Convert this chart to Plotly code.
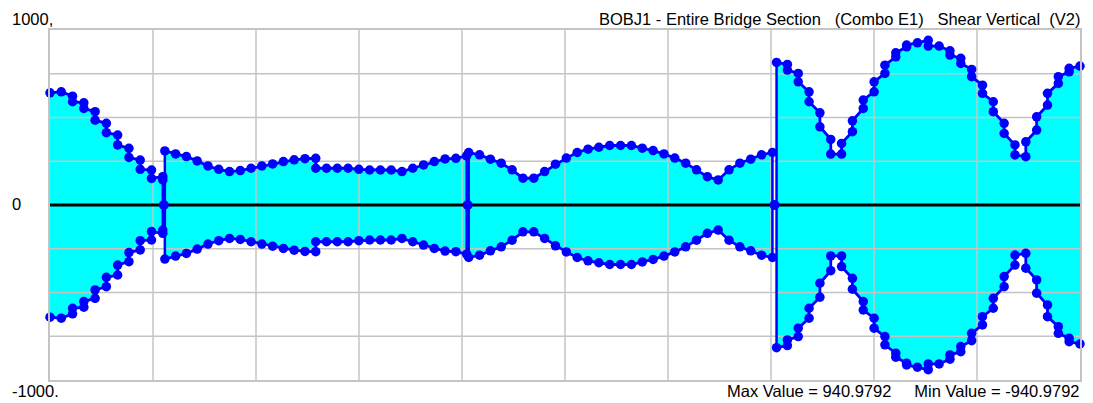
import numpy as np
import plotly.graph_objects as go

# ---------------- data ----------------
title_text = "BOBJ1 - Entire Bridge Section   (Combo E1)   Shear Vertical  (V2)"
extreme_text = "Max Value = 940.9792     Min Value = -940.9792"
y_labels = ["1000,", "0", "-1000."]

x_range = [0, 10]
y_range = [-1000, 1000]
grid_x = list(range(0, 11))
grid_y = list(range(-1000, 1001, 250))

# station layout per span: (start, end, number of output stations)
span_ranges = [(0.0, 1.095, 11), (1.115, 4.045, 29), (4.065, 7.014, 29), (7.054, 10.0, 29)]
supports = [1.105, 4.055, 7.034]

# envelope values per station (two values where the diagram steps at a station)
span1_max = [[641], [647], [622, 590], [584, 552], [533, 485], [467, 413], [400, 343],
             [324, 272], [257, 204], [200, 152], [162, 143]]
span1_min = [[-641], [-647], [-622, -590], [-584, -552], [-533, -485], [-467, -413], [-400, -343],
             [-324, -272], [-257, -204], [-200, -152], [-162, -143]]

span2_max = [[309], [292], [277], [252], [223], [204], [191], [197], [210], [223], [235], [248],
             [258], [265], [267, 210], [210], [210], [210], [204], [200], [200], [200], [191],
             [210], [229], [248], [263], [267], [281]]
span2_min = [[-309], [-292], [-277], [-252], [-223], [-204], [-191], [-197], [-210], [-223], [-235], [-248],
             [-258], [-265], [-267, -210], [-210], [-210], [-210], [-204], [-200], [-200], [-200], [-191],
             [-210], [-229], [-248], [-263], [-267], [-281]]

span3_max = [[300], [287], [262], [239], [201], [153], [153], [191], [233], [268], [300], [319],
             [330], [340], [340], [340], [325], [311], [292], [268], [239], [201], [162], [143],
             [201], [239], [262], [287], [300]]
span3_min = [[-300], [-287], [-262], [-239], [-201], [-153], [-153], [-191], [-233], [-268], [-300], [-319],
             [-330], [-340], [-340], [-340], [-325], [-311], [-292], [-268], [-239], [-201], [-162], [-143],
             [-201], [-239], [-262], [-287], [-300]]

span4_max = [[815], [803, 771], [752, 704], [647, 590], [527, 447], [375, 291], [291, 352],
             [419, 481], [552, 600], [647, 704], [752, 799], [847, 870], [904, 914], [927],
             [941, 908], [908], [881, 857], [838, 809], [775, 733], [685, 638], [590, 533],
             [467, 409], [343, 286], [276, 361], [428, 504], [571, 638], [695, 733], [761, 781], [794]]
span4_min = [[-815], [-803, -771], [-752, -704], [-647, -590], [-527, -447], [-375, -291], [-291, -352],
             [-419, -481], [-552, -600], [-647, -704], [-752, -799], [-847, -870], [-904, -914], [-927],
             [-941, -908], [-908], [-881, -857], [-838, -809], [-775, -733], [-685, -638], [-590, -533],
             [-467, -409], [-343, -286], [-276, -361], [-428, -504], [-571, -638], [-695, -733], [-761, -781], [-794]]

span_max = [span1_max, span2_max, span3_max, span4_max]
span_min = [span1_min, span2_min, span3_min, span4_min]

# ---------------- styling ----------------
CYAN = "#00FFFF"
BLUE = "#0000FF"
GRID = "#C4C4C4"
FONT = "Liberation Sans, Arial, sans-serif"


def flatten(rng, groups):
    a, b, n = rng
    stations = np.linspace(a, b, n)
    xs, ys = [], []
    for s, g in zip(stations, groups):
        for v in g:
            xs.append(float(s))
            ys.append(v)
    return xs, ys


fig = go.Figure()

spans = []
for rng, mx, mn in zip(span_ranges, span_max, span_min):
    xu, yu = flatten(rng, mx)
    xl, yl = flatten(rng, mn)
    spans.append((xu, yu, xl, yl))

# cyan fills
for xu, yu, xl, yl in spans:
    fig.add_trace(go.Scatter(x=xu + xl[::-1], y=yu + yl[::-1], mode="lines",
                             fill="toself", fillcolor=CYAN, line=dict(width=0),
                             hoverinfo="skip"))

# grid lines (drawn above the fill, as in the reference)
gx, gy = [], []
for v in grid_x[1:-1]:
    gx += [v, v, None]
    gy += [y_range[0], y_range[1], None]
for v in grid_y[1:-1]:
    gx += [x_range[0], x_range[1], None]
    gy += [v, v, None]
fig.add_trace(go.Scatter(x=gx, y=gy, mode="lines", line=dict(color=GRID, width=1.5),
                         hoverinfo="skip"))

# zero line
fig.add_trace(go.Scatter(x=x_range, y=[0, 0], mode="lines", line=dict(color="black", width=3),
                         hoverinfo="skip"))

# vertical lines at interior supports (span ends / starts)
vx, vy = [], []
for i, (xu, yu, xl, yl) in enumerate(spans):
    if i > 0:
        vx += [xu[0], xl[0], None]
        vy += [yu[0], yl[0], None]
    if i < len(spans) - 1:
        vx += [xu[-1], xl[-1], None]
        vy += [yu[-1], yl[-1], None]
fig.add_trace(go.Scatter(x=vx, y=vy, mode="lines", line=dict(color=BLUE, width=2.5),
                         hoverinfo="skip"))

# envelope curves with markers
cx, cy = [], []
for xu, yu, xl, yl in spans:
    cx += xu + [None] + xl + [None]
    cy += yu + [None] + yl + [None]
fig.add_trace(go.Scatter(x=cx, y=cy, mode="lines+markers", cliponaxis=False,
                         line=dict(color=BLUE, width=2.8),
                         marker=dict(color=BLUE, size=9.5, symbol="circle", line=dict(width=0)),
                         hoverinfo="skip"))

# support markers on zero line
fig.add_trace(go.Scatter(x=supports, y=[0] * len(supports), mode="markers", cliponaxis=False,
                         marker=dict(color=BLUE, size=10), hoverinfo="skip"))

# ---------------- layout ----------------
# the page body has an 8px margin, so the figure is drawn 8px smaller and
# all target page positions are shifted by that offset
OFF = 8
W, H = 1093 - OFF, 403 - OFF
L, R, T, B = 50 - OFF, 11, 30 - OFF, 23
pw, ph = W - L - R, H - T - B


def px_to_paper_x(px):
    return (px - OFF - L) / pw


def px_to_paper_y(py):
    return 1 - (py - OFF - T) / ph


annots = [
    dict(text=y_labels[0], x=px_to_paper_x(10), y=px_to_paper_y(19), xanchor="left"),
    dict(text=y_labels[1], x=px_to_paper_x(10), y=px_to_paper_y(204), xanchor="left"),
    dict(text=y_labels[2], x=px_to_paper_x(10), y=px_to_paper_y(391), xanchor="left"),
    dict(text=title_text.replace(" ", "\u00a0"), x=px_to_paper_x(1084), y=px_to_paper_y(19), xanchor="right"),
    dict(text=extreme_text.replace(" ", "\u00a0"), x=px_to_paper_x(1084), y=px_to_paper_y(391), xanchor="right"),
]
for a in annots:
    a.update(xref="paper", yref="paper", yanchor="middle", showarrow=False,
             font=dict(family=FONT, size=16.5, color="black"))

fig.update_layout(
    width=W, height=H,
    margin=dict(l=L, r=R, t=T, b=B, pad=0),
    paper_bgcolor="white", plot_bgcolor="white",
    showlegend=False,
    annotations=annots,
    xaxis=dict(range=x_range, showgrid=False, zeroline=False, showticklabels=False,
               ticks="", showline=True, mirror=True, linecolor=GRID, linewidth=1.5,
               fixedrange=True),
    yaxis=dict(range=y_range, showgrid=False, zeroline=False, showticklabels=False,
               ticks="", showline=True, mirror=True, linecolor=GRID, linewidth=1.5,
               fixedrange=True),
)

fig.write_html("out.html")
